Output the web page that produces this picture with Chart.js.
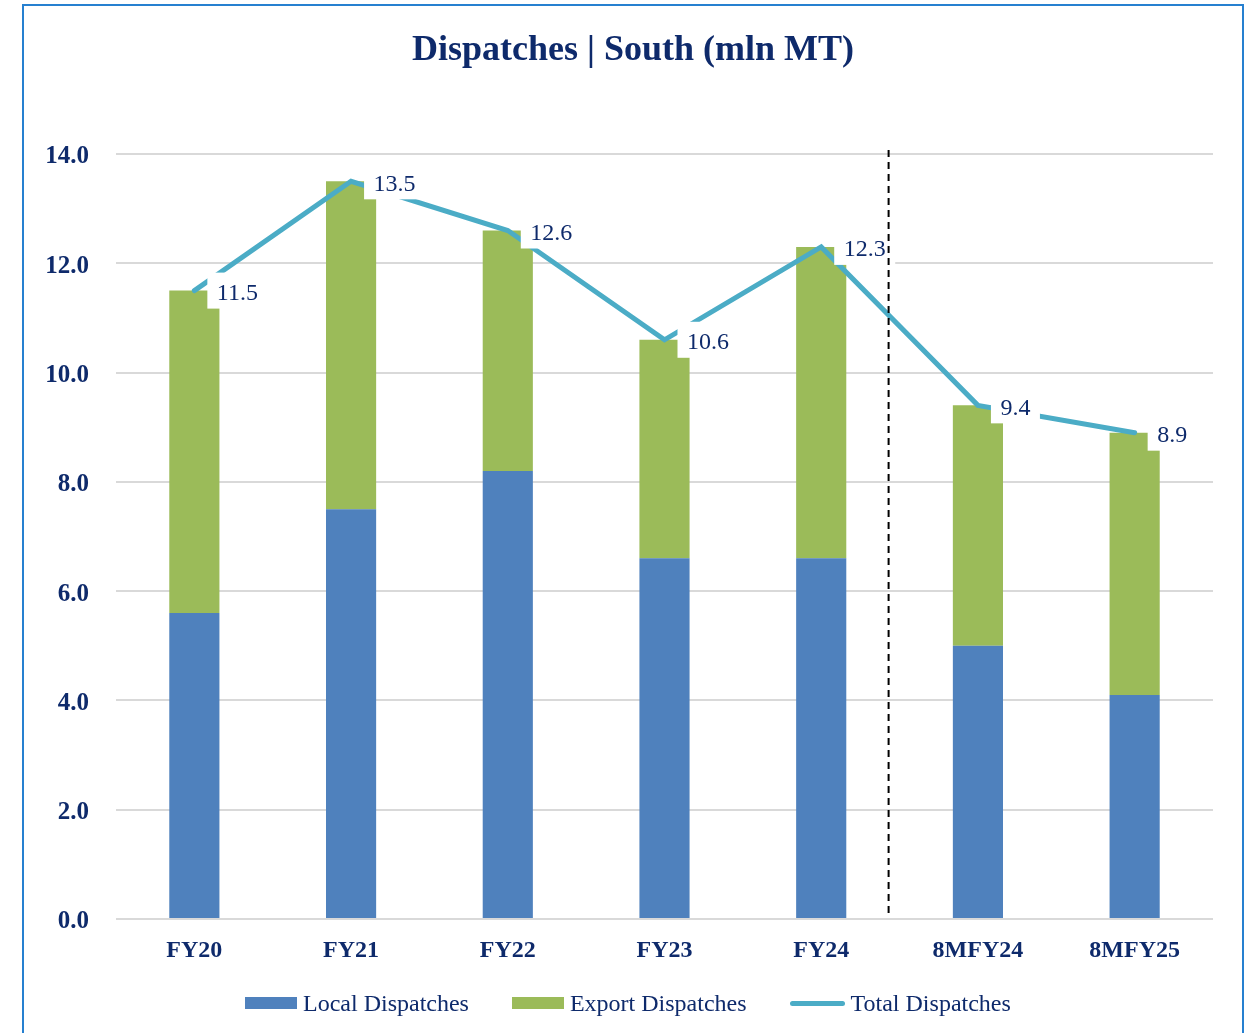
<!DOCTYPE html>
<html>
<head>
<meta charset="utf-8">
<script src="https://cdn.jsdelivr.net/npm/chart.js@4.4.1/dist/chart.umd.min.js"></script>
<style>
  body { margin: 0; background: #ffffff; overflow: hidden; }
  #wrap { position: absolute; left: 0; top: 0; width: 1245px; height: 1033px; }
  #frame { position: absolute; left: 22px; top: 4px; width: 1218px; height: 1100px; border: 2px solid #2680D0; pointer-events: none; }
  #legend { position: absolute; left: 245px; top: 987px; height: 32px; display: flex; align-items: center;
            font-family: 'Liberation Serif', 'Times New Roman', serif; font-size: 24px; color: #0E2A6B; }
  #legend .item { display: flex; align-items: center; margin-right: 43px; white-space: nowrap; }
  #legend .swatch { display: inline-block; margin-right: 6px; }
</style>
</head>
<body>
<div id="wrap"><canvas id="c" width="1245" height="1033"></canvas></div>
<div id="legend"></div>
<div id="frame"></div>
<script>

var categories = ['FY20', 'FY21', 'FY22', 'FY23', 'FY24', '8MFY24', '8MFY25'];
var localDispatches = [5.6, 7.5, 8.2, 6.6, 6.6, 5.0, 4.1];
var exportDispatches = [5.9, 6.0, 4.4, 4.0, 5.7, 4.4, 4.8];
var totalDispatches = [11.5, 13.5, 12.6, 10.6, 12.3, 9.4, 8.9];
var yTicks = [0, 2, 4, 6, 8, 10, 12, 14];

var navy = '#0E2A6B';
var blue = '#4F81BD';
var green = '#9BBB59';
var teal = '#4BACC6';
var serif = "'Liberation Serif', 'Times New Roman', serif";
var titleText = 'Dispatches | South (mln MT)';

// title drawn centred on the framed box rather than the canvas
var titlePlugin = {
    id: 'titlePlugin',
    beforeDraw: function (chart) {
        var ctx = chart.ctx;
        ctx.save();
        ctx.font = 'bold 36px ' + serif;
        ctx.fillStyle = navy;
        ctx.textAlign = 'center';
        ctx.textBaseline = 'middle';
        ctx.fillText(titleText, 633, 51);
        ctx.restore();
    }
};

// white boxed value labels next to each point of the total line
var totalLabels = {
    id: 'totalLabels',
    afterDatasetsDraw: function (chart) {
        var ctx = chart.ctx;
        var meta = chart.getDatasetMeta(2);
        ctx.save();
        ctx.font = '24px ' + serif;
        ctx.textBaseline = 'middle';
        ctx.textAlign = 'left';
        meta.data.forEach(function (pt, i) {
            var txt = totalDispatches[i].toFixed(1);
            var w = ctx.measureText(txt).width;
            ctx.fillStyle = '#ffffff';
            ctx.fillRect(pt.x + 13, pt.y - 18, w + 19, 36);
            ctx.fillStyle = navy;
            ctx.fillText(txt, pt.x + 22.5, pt.y + 3);
        });
        ctx.restore();
    }
};

// dashed separator between full years and 8M periods
var separator = {
    id: 'separator',
    afterDraw: function (chart) {
        var ctx = chart.ctx;
        var x = chart.scales.x.getPixelForValue(4.43);
        ctx.save();
        ctx.strokeStyle = '#000000';
        ctx.lineWidth = 2;
        ctx.setLineDash([7, 5]);
        ctx.beginPath();
        ctx.moveTo(x, chart.chartArea.top - 4);
        ctx.lineTo(x, chart.chartArea.bottom - 4);
        ctx.stroke();
        ctx.restore();
    }
};

// legend as html, built from the chart's datasets
var htmlLegend = {
    id: 'htmlLegend',
    afterUpdate: function (chart) {
        var box = document.getElementById('legend');
        box.innerHTML = '';
        chart.data.datasets.forEach(function (ds) {
            var item = document.createElement('span');
            item.className = 'item';
            var sw = document.createElement('span');
            sw.className = 'swatch';
            if (ds.type === 'line') {
                sw.style.width = '55px';
                sw.style.height = '5px';
                sw.style.borderRadius = '3px';
                sw.style.background = ds.borderColor;
            } else {
                sw.style.width = '52px';
                sw.style.height = '12px';
                sw.style.background = ds.backgroundColor;
            }
            item.appendChild(sw);
            item.appendChild(document.createTextNode(ds.label));
            box.appendChild(item);
        });
    }
};

var ctx = document.getElementById('c').getContext('2d');

var chart = new Chart(ctx, {
    type: 'bar',
    data: {
        labels: categories,
        datasets: [{
            label: 'Local Dispatches',
            data: localDispatches,
            backgroundColor: blue,
            stack: 'dispatch',
            order: 1
        }, {
            label: 'Export Dispatches',
            data: exportDispatches,
            backgroundColor: green,
            stack: 'dispatch',
            order: 2
        }, {
            type: 'line',
            label: 'Total Dispatches',
            data: totalDispatches,
            borderColor: teal,
            backgroundColor: teal,
            borderWidth: 5,
            borderCapStyle: 'round',
            pointRadius: 0,
            tension: 0,
            stack: 'total',
            order: 0
        }]
    },
    options: {
        responsive: false,
        animation: false,
        barPercentage: 0.32,
        categoryPercentage: 1,
        layout: {
            padding: { left: 0, right: 32, top: 154, bottom: 64 }
        },
        plugins: {
            title: { display: false },
            legend: { display: false },
            tooltip: { enabled: false }
        },
        scales: {
            x: {
                stacked: true,
                grid: { display: false, drawTicks: false },
                border: { display: false },
                ticks: {
                    color: navy,
                    font: { family: serif, size: 24, weight: 'bold' },
                    padding: 17,
                    maxRotation: 0
                },
                afterFit: function (axis) { axis.height = 50; }
            },
            y: {
                stacked: true,
                min: 0,
                max: 14,
                afterBuildTicks: function (axis) {
                    axis.ticks = yTicks.map(function (v) { return { value: v }; });
                },
                grid: { color: '#D9D9D9', lineWidth: 2, drawTicks: false },
                border: { display: false },
                ticks: {
                    color: navy,
                    font: { family: serif, size: 25, weight: 'bold' },
                    padding: 27,
                    labelOffset: 3,
                    callback: function (v) { return Number(v).toFixed(1); }
                },
                afterFit: function (axis) { axis.width = 116; }
            }
        }
    },
    plugins: [titlePlugin, totalLabels, separator, htmlLegend]
});
</script>
</body>
</html>
